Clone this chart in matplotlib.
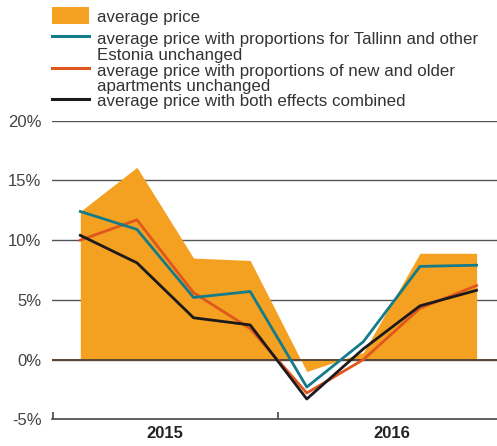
import matplotlib.pyplot as plt
from matplotlib.lines import Line2D
from matplotlib.patches import Rectangle

plt.rcParams['font.family'] = ['Liberation Sans', 'DejaVu Sans']

# quarterly change, %, 2015 Q1 .. 2016 Q4
quarters = list(range(8))
avg_price = [12.4, 16.1, 8.5, 8.3, -1.0, 0.6, 8.9, 8.9]
region_fixed = [12.4, 10.9, 5.2, 5.7, -2.3, 1.5, 7.8, 7.9]
age_fixed = [10.0, 11.7, 5.6, 2.6, -2.8, 0.0, 4.3, 6.2]
both_fixed = [10.4, 8.1, 3.5, 2.9, -3.3, 0.9, 4.5, 5.8]

years = ['2015', '2016']
year_pos = [1.5, 5.5]
yticks = [-5, 0, 5, 10, 15, 20]

c_fill = '#F4A021'
c_teal = '#137B8A'
c_red = '#E0561F'
c_black = '#1C1A1A'

fig = plt.figure(figsize=(4.97, 4.46), dpi=100)
ax = fig.add_axes([52 / 497, 1 - 419.3 / 446, 1 - 52 / 497, (419.3 - 120.7) / 446])

for y in yticks[1:]:
    ax.axhline(y, color='#555555', lw=1.0, zorder=1)
ax.fill_between(quarters, 0, avg_price, color=c_fill, lw=0, zorder=2)
ax.axhline(0, color='#5a4632', lw=1.4, zorder=3)

ax.plot(quarters, age_fixed, color=c_red, lw=2.0, zorder=4)
ax.plot(quarters, region_fixed, color=c_teal, lw=2.0, zorder=5)
ax.plot(quarters, both_fixed, color=c_black, lw=2.0, zorder=6)

ax.set_xlim(-0.5, 7.36)
ax.set_ylim(-5, 20)
for s in ['top', 'right', 'left']:
    ax.spines[s].set_visible(False)
ax.spines['bottom'].set_color('#444444')
ax.spines['bottom'].set_linewidth(1.2)

ax.set_yticks(yticks)
ax.set_yticklabels([f'{v}%' for v in yticks], fontsize=12, color='#444444')
ax.tick_params(axis='y', length=0, pad=7.5)
ax.set_xticks([-0.49, 3.5])
ax.set_xticklabels(['', ''])
ax.tick_params(axis='x', direction='in', length=5, width=1.2, color='#444444')
for yr, xp in zip(years, year_pos):
    ax.text(xp, -5.55, yr, ha='center', va='top', fontsize=12,
            fontweight='bold', color='#222222')

# legend drawn by hand
W, H = 497, 446
fig.patches.append(Rectangle((52 / W, 1 - 24 / H), 37 / W, 16.7 / H,
                             transform=fig.transFigure, color=c_fill, lw=0))
for yy, col in [(36, c_teal), (67.7, c_red), (98.7, c_black)]:
    fig.lines.append(Line2D([52 / W, 89 / W], [1 - yy / H] * 2,
                            transform=fig.transFigure, color=col, lw=2.2))
legend_texts = [
    (17.3, 'average price'),
    (39.3, 'average price with proportions for Tallinn and other\nEstonia unchanged'),
    (70.7, 'average price with proportions of new and older\napartments unchanged'),
    (100.7, 'average price with both effects combined'),
]
for yy, txt in legend_texts:
    fig.text(97 / W, 1 - (yy - 7) / H, txt, ha='left', va='top', fontsize=12.2,
             color='#333333', linespacing=1.05)

fig.savefig('out.png', dpi=100)
